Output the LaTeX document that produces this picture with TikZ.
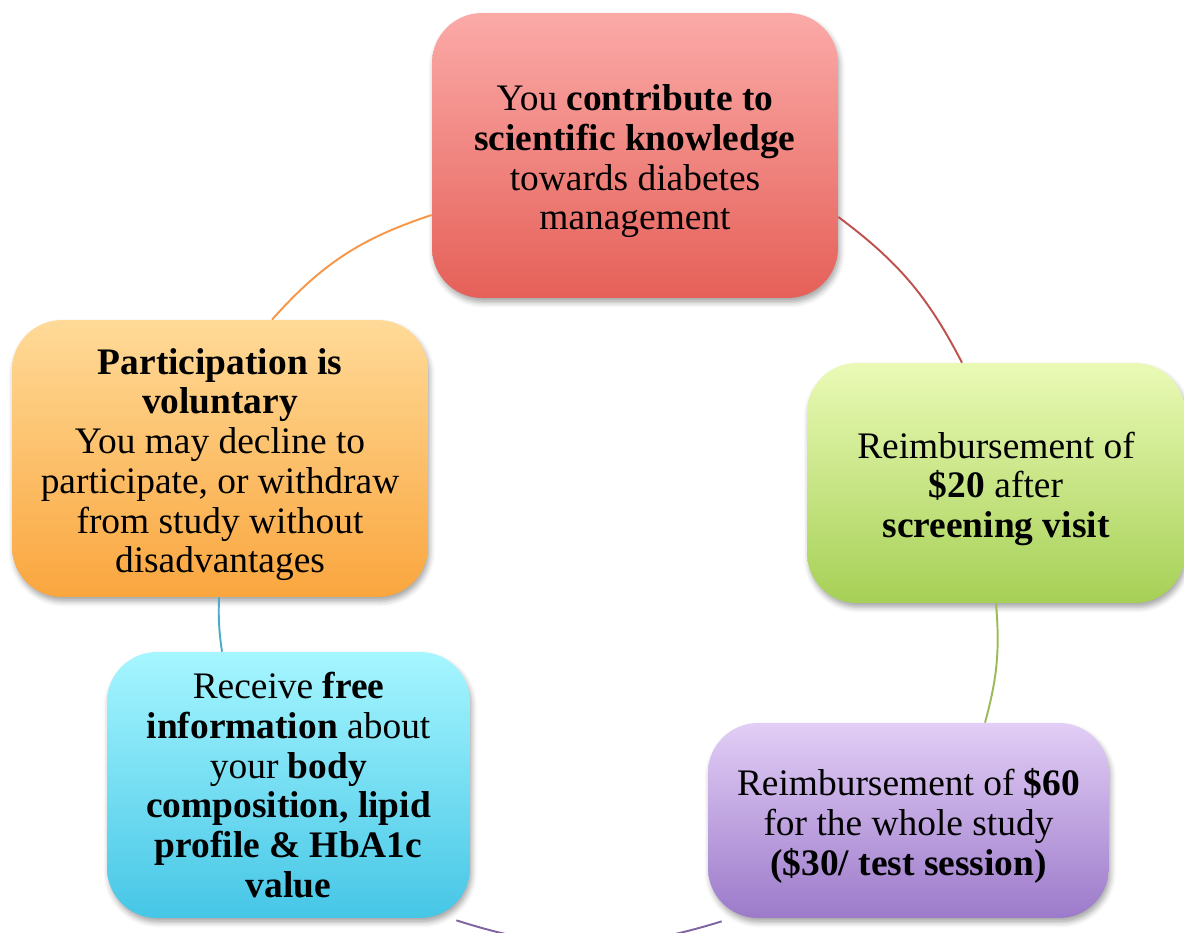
\documentclass[tikz,border=0pt]{standalone}
\usepackage{fontspec}
\setmainfont{Liberation Serif}
\usetikzlibrary{calc,shadows.blur}
\definecolor{arcOrange}{RGB}{247,150,70}
\definecolor{arcRed}{RGB}{192,80,77}
\definecolor{arcGreen}{RGB}{155,187,89}
\definecolor{arcPurple}{RGB}{128,100,162}
\definecolor{arcCyan}{RGB}{75,172,198}
\definecolor{redTop}{RGB}{251,170,168}
\definecolor{redBot}{RGB}{229,96,88}
\definecolor{greenTop}{RGB}{234,250,182}
\definecolor{greenBot}{RGB}{166,208,86}
\definecolor{purpleTop}{RGB}{226,206,246}
\definecolor{purpleBot}{RGB}{156,122,202}
\definecolor{cyanTop}{RGB}{166,246,255}
\definecolor{cyanBot}{RGB}{70,198,230}
\definecolor{orangeTop}{RGB}{255,218,152}
\definecolor{orangeBot}{RGB}{250,166,62}
\newcommand{\topstrut}{\rule{0pt}{21.6pt}}
\tikzset{
  card/.style={rounded corners=1cm, align=center, inner sep=0pt,
    font=\fontsize{21.3pt}{22.6pt}\selectfont,
    blur shadow={shadow xshift=1pt, shadow yshift=-2.5pt, shadow blur radius=3pt, shadow opacity=35}},
  link/.style={line width=1.1pt}
}
\begin{document}
\begin{tikzpicture}[x=0.02cm,y=-0.02cm]
\useasboundingbox (0,0) rectangle (1184,933);
\clip (0,0) rectangle (1184,933);
% boxes
\node[card, minimum width=8.12cm, minimum height=5.7cm, top color=redTop, bottom color=redBot] (red) at (635,155.5)
  {\topstrut You \textbf{contribute to}\\ \textbf{scientific knowledge}\\ towards diabetes\\ management};
\node[card, minimum width=7.56cm, minimum height=4.8cm, top color=greenTop, bottom color=greenBot] (green) at (996,483)
  {\topstrut Reimbursement of\\ \textbf{\$20} after\\ \textbf{screening visit}};
\node[card, minimum width=8.02cm, minimum height=3.9cm, top color=purpleTop, bottom color=purpleBot] (purple) at (908.5,820.5)
  {\topstrut Reimbursement of \textbf{\$60}\\ for the whole study\\ \textbf{(\$30/ test session)}};
\node[card, minimum width=7.26cm, minimum height=5.32cm, top color=cyanTop, bottom color=cyanBot] (cyan) at (288.5,785)
  {Receive \textbf{free}\\ \textbf{information} about\\ your \textbf{body}\\ \textbf{composition, lipid}\\ \textbf{profile \& HbA1c}\\ \textbf{value}};
\node[card, minimum width=8.32cm, minimum height=5.54cm, top color=orangeTop, bottom color=orangeBot] (orange) at (220,458.5)
  {\topstrut\textbf{Participation is}\\ \textbf{voluntary}\\ You may decline to\\ participate, or withdraw\\ from study without\\ disadvantages};
% connectors
\draw[link, arcOrange] ($(orange.north)+(52,0)$) to[bend left=15] ($(red.west)+(0,59.5)$);
\draw[link, arcRed] ($(red.east)+(0,61.5)$) to[bend left=13] ($(green.north)+(-34,0)$);
\draw[link, arcGreen] (green.south) to[bend left=10] ($(purple.north)+(76.5,0)$);
\draw[link, arcPurple] ($(purple.south west)+(14,3)$) to[bend left=17.5] ($(cyan.south east)+(-14,2)$);
\draw[link, arcCyan] ($(cyan.north)+(-66.5,0)$) to[bend left=5] ($(orange.south)+(-1,0)$);
\end{tikzpicture}
\end{document}
